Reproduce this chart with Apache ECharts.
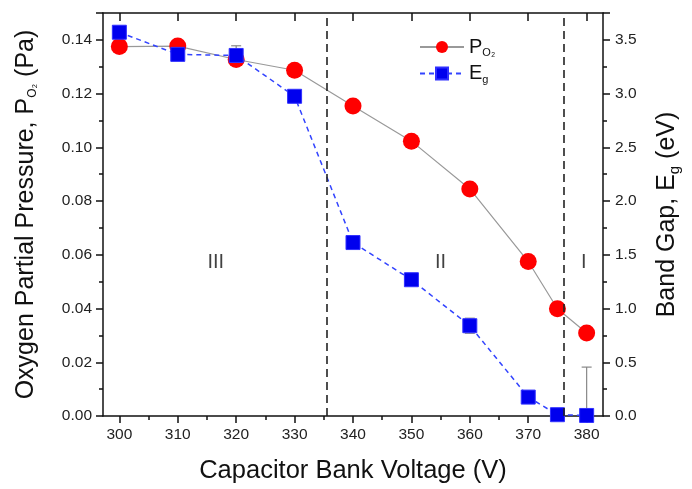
<!DOCTYPE html>
<html>
<head>
<meta charset="utf-8">
<script src="https://cdn.jsdelivr.net/npm/echarts@6/dist/echarts.min.js"></script>
<style>
  html, body { margin: 0; padding: 0; background: #fff; }
  #chart { width: 692px; height: 489px; }
</style>
</head>
<body>
<div id="chart"></div>
<script>
// datos
const voltage = [300, 310, 320, 330, 340, 350, 360, 370, 375, 380];
const pressure = [0.1375, 0.1377, 0.1327, 0.1287, 0.1154, 0.1023, 0.0845, 0.0575, 0.0399, 0.0309];
const bandGap = [3.571, 3.365, 3.355, 2.975, 1.614, 1.268, 0.840, 0.176, 0.012, 0.005];
const bandGapErr = [0.03, 0.03, 0.09, 0.04, 0.04, 0.03, 0.07, 0.04, 0.0, 0.45];

const xTicks = [300, 310, 320, 330, 340, 350, 360, 370, 380];
const xMinorTicks = [305, 315, 325, 335, 345, 355, 365, 375];
const regionBounds = [335.5, 376];
const regionNames = ['III', 'II', 'I'];
const regionCenters = [316.5, 355, 379.5];
const regionLevel = 0.057;

const font = 'Liberation Sans, Arial, sans-serif';
const xMin = 297.2, xMax = 382.8;

const chart = echarts.init(document.getElementById('chart'));

const baseX = {
    type: 'value', min: xMin, max: xMax, splitLine: { show: false }
};

chart.setOption({
    animation: false,
    grid: { left: 103, right: 89, top: 13, bottom: 72 },
    legend: {
        left: 414, top: 32, orient: 'vertical', itemGap: 5,
        itemWidth: 44, itemHeight: 15,
        data: ['P', 'E'],
        formatter: name => name === 'P' ? '{m|P}{s|O₂}' : '{m|E}{s|g}',
        textStyle: {
            fontFamily: font, color: '#111',
            rich: {
                m: { fontSize: 20, fontFamily: font, color: '#111' },
                s: { fontSize: 11, fontFamily: font, color: '#111', padding: [12, 0, 0, 0] }
            }
        }
    },
    xAxis: [
        Object.assign({}, baseX, {
            position: 'bottom',
            name: 'Capacitor Bank Voltage (V)',
            nameLocation: 'middle', nameGap: 42,
            nameTextStyle: { fontFamily: font, fontSize: 25.5, color: '#111' },
            axisLine: { lineStyle: { color: '#111', width: 1.5 } },
            axisTick: { customValues: xTicks, length: 7, lineStyle: { color: '#111', width: 1.5 } },
            axisLabel: { customValues: xTicks, fontFamily: font, fontSize: 15.5, color: '#222', margin: 11 }
        }),
        Object.assign({}, baseX, {
            position: 'bottom',
            axisLine: { show: false },
            axisTick: { customValues: xMinorTicks, length: 4, lineStyle: { color: '#111', width: 1.5 } },
            axisLabel: { show: false }
        }),
        Object.assign({}, baseX, {
            position: 'top',
            axisLine: { lineStyle: { color: '#111', width: 1.5 } },
            axisTick: { customValues: xTicks, inside: true, length: 8, lineStyle: { color: '#111', width: 1.5 } },
            axisLabel: { show: false }
        })
    ],
    yAxis: [
        {
            type: 'value', min: 0, max: 0.15, interval: 0.02,
            name: '{a|Oxygen Partial Pressure, P}{s|O₂}{a| (Pa)}',
            nameLocation: 'middle', nameGap: 64,
            nameTextStyle: {
                rich: {
                    a: { fontFamily: font, fontSize: 25, color: '#111' },
                    s: { fontFamily: font, fontSize: 12, color: '#111', padding: [14, 0, 0, 0] }
                }
            },
            splitLine: { show: false },
            axisLine: { show: true, lineStyle: { color: '#111', width: 1.5 } },
            axisTick: { show: true, length: 7, lineStyle: { color: '#111', width: 1.5 } },
            minorTick: { show: true, splitNumber: 2, length: 4, lineStyle: { color: '#111', width: 1.5 } },
            axisLabel: { fontFamily: font, fontSize: 15.5, color: '#222', margin: 11, showMaxLabel: false, formatter: v => v.toFixed(2) }
        },
        {
            type: 'value', min: 0, max: 3.75, interval: 0.5,
            position: 'right',
            name: '{a|Band Gap, E}{s|g}{a| (eV)}',
            nameLocation: 'middle', nameGap: 50, nameRotate: 90,
            nameTextStyle: {
                rich: {
                    a: { fontFamily: font, fontSize: 25, color: '#111' },
                    s: { fontFamily: font, fontSize: 15, color: '#111', padding: [14, 0, 0, 0] }
                }
            },
            splitLine: { show: false },
            axisLine: { show: true, lineStyle: { color: '#111', width: 1.5 } },
            axisTick: { show: true, length: 7, lineStyle: { color: '#111', width: 1.5 } },
            minorTick: { show: true, splitNumber: 2, length: 4, lineStyle: { color: '#111', width: 1.5 } },
            axisLabel: { fontFamily: font, fontSize: 15.5, color: '#222', margin: 12, showMaxLabel: false, formatter: v => v.toFixed(1) }
        }
    ],
    series: [
        {
            name: 'P', type: 'line', xAxisIndex: 0, yAxisIndex: 0,
            data: voltage.map((v, i) => [v, pressure[i]]),
            symbol: 'circle', symbolSize: 17,
            itemStyle: { color: '#ff0000' },
            lineStyle: { color: '#999999', width: 1.2 },
            z: 3,
            markLine: {
                silent: true, symbol: 'none', label: { show: false },
                lineStyle: { color: '#222', type: [8, 5], width: 1.6 },
                data: regionBounds.map(x => ({ xAxis: x }))
            }
        },
        {
            type: 'custom', xAxisIndex: 0, yAxisIndex: 1, z: 3, silent: true,
            data: voltage.map((v, i) => [v, bandGap[i], bandGapErr[i]]),
            renderItem: (params, api) => {
                const x = api.value(0), y = api.value(1), e = api.value(2);
                if (!e) return null;
                const top = api.coord([x, y + e]);
                const bot = api.coord([x, Math.max(0, y - e)]);
                const style = { stroke: '#888', lineWidth: 1.2 };
                const cap = 5;
                return {
                    type: 'group',
                    children: [
                        { type: 'line', shape: { x1: top[0], y1: top[1], x2: bot[0], y2: bot[1] }, style },
                        { type: 'line', shape: { x1: top[0] - cap, y1: top[1], x2: top[0] + cap, y2: top[1] }, style },
                        { type: 'line', shape: { x1: bot[0] - cap, y1: bot[1], x2: bot[0] + cap, y2: bot[1] }, style }
                    ]
                };
            }
        },
        {
            name: 'E', type: 'line', xAxisIndex: 0, yAxisIndex: 1,
            data: voltage.map((v, i) => [v, bandGap[i]]),
            symbol: 'rect', symbolSize: 14,
            itemStyle: { color: '#0000ee', borderColor: '#3030ff', borderWidth: 1 },
            lineStyle: { color: '#3344ff', width: 1.5, type: [5, 4] },
            z: 4
        },
        {
            type: 'scatter', xAxisIndex: 0, yAxisIndex: 0, silent: true,
            symbolSize: 0,
            data: regionNames.map((n, i) => [regionCenters[i], regionLevel, n]),
            label: {
                show: true, position: 'inside',
                formatter: p => p.value[2],
                fontFamily: font, fontSize: 20, color: '#111'
            }
        }
    ]
});
</script>
</body>
</html>
